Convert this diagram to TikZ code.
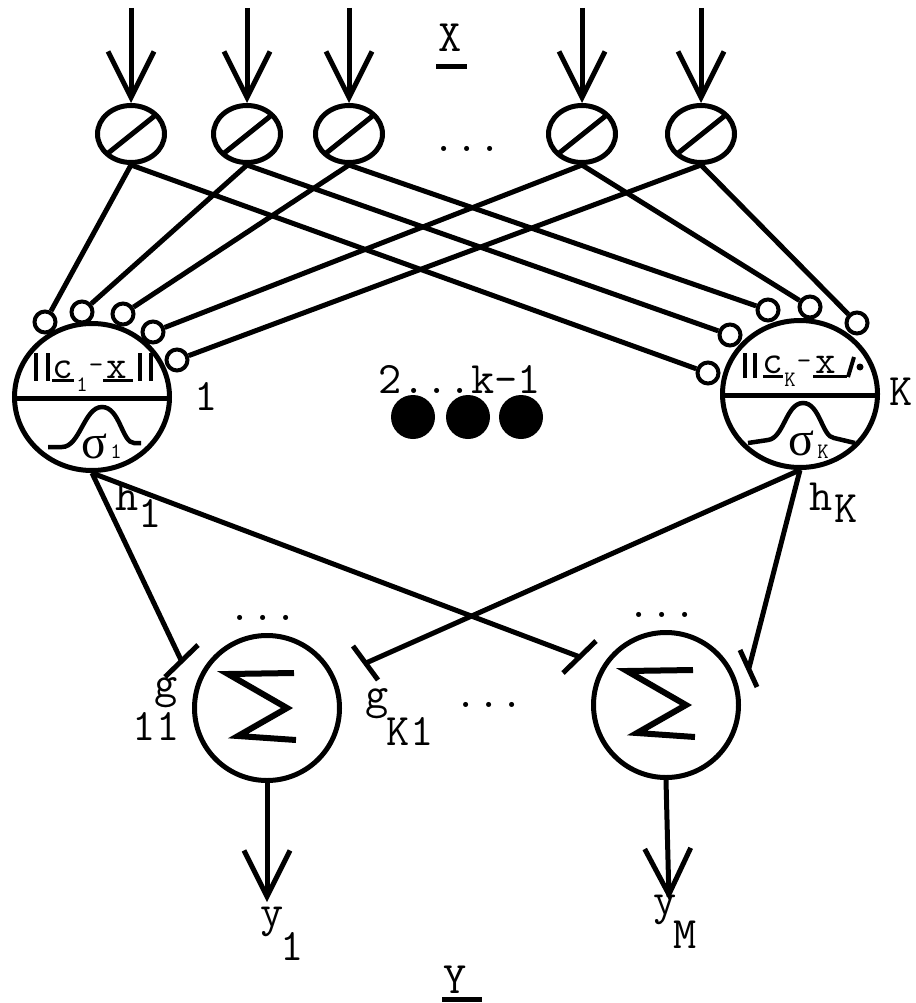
\documentclass[tikz,border=0pt]{standalone}
\usepackage{fontspec}
\newfontfamily\grkfont{Liberation Serif}
\usetikzlibrary{arrows.meta,shapes.geometric,calc}

\begin{document}
\begin{tikzpicture}[x=1pt,y=-1pt,
  wire/.style={line width=5pt},
  port/.style={ellipse,draw,line width=5pt,minimum width=67pt,minimum height=57pt,inner sep=0pt},
  rbf/.style={ellipse,draw,line width=5pt,minimum width=155pt,minimum height=147pt,inner sep=0pt},
  summer/.style={circle,draw,line width=5pt,minimum size=145pt,inner sep=0pt},
  tap/.style={circle,draw,line width=4pt,minimum size=21pt,inner sep=0pt,fill=white},
  blob/.style={circle,fill,minimum size=44pt,inner sep=0pt},
  lab/.style={font=\ttfamily\fontsize{45}{45}\selectfont,inner sep=0pt,anchor=base},
  mid/.style={font=\ttfamily\fontsize{40}{40}\selectfont,inner sep=0pt,anchor=base},
  minus/.style={font=\ttfamily\fontsize{28}{28}\selectfont,inner sep=0pt,anchor=base},
  sig/.style={font=\grkfont\fontsize{48}{48}\selectfont,inner sep=0pt,anchor=base},
  tiny/.style={font=\ttfamily\fontsize{22}{22}\selectfont,inner sep=0pt,anchor=base},
  feed/.style={wire,-{Straight Barb[length=46pt,width=46pt]}},
]
\useasboundingbox (0,0) rectangle (915,1003);
\fill[white] (0,0) rectangle (915,1003);

% input ports
\foreach \i/\x in {1/131,2/247,3/349,4/582,5/701}{
  \node[port] (e\i) at (\x,134) {};
  \coordinate (in\i) at (\x,8);
  \draw[feed] (in\i) -- (e\i.north);
  \draw[wire] ($(e\i.center)+(-24,20)$) -- ($(e\i.center)+(26,-20)$);
}
\node[lab] (X) at (450,52) {X};
\draw[wire] ($(X.base)+(-14,15)$) -- ($(X.base)+(17,15)$);
\node[lab] (dotsin) at (467,152) {...};

% radial basis units
\node[rbf] (r1) at (92,397) {};
\node[rbf] (rK) at (800,394) {};
\draw[wire] ($(r1.center)+(-77,1)$) -- ($(r1.center)+(77,1)$);
\draw[wire] ($(rK.center)+(-77,1)$) -- ($(rK.center)+(77,1)$);

% input taps on unit 1 and unit K
\node[tap] (a1) at (45,322) {};
\node[tap] (a2) at (82,312) {};
\node[tap] (a3) at (123,314) {};
\node[tap] (a4) at (153,332) {};
\node[tap] (a5) at (177,360) {};
\node[tap] (k1) at (708,373) {};
\node[tap] (k2) at (730,335) {};
\node[tap] (k3) at (768,310) {};
\node[tap] (k4) at (810,307) {};
\node[tap] (k5) at (857,323) {};
\foreach \i in {1,...,5}{
  \draw[wire] (e\i.south) -- (a\i);
  \draw[wire] (e\i.south) -- (k\i);
}

% distance term of unit 1
\draw[line width=4.5pt] (36,353)--(36,381) (48,353)--(48,381)
                        (140,353)--(140,381) (151,353)--(151,381);
\node[mid] (c1) at (63,378) {c};
\draw[line width=3pt] (52,380)--(74,380);
\node[tiny] (c1i) at (82,391) {1};
\node[minus] (m1) at (96,373) {-};
\node[mid] (x1) at (117,378) {x};
\draw[line width=3pt] (103,380)--(133,380);
% gaussian of unit 1
\draw[line width=4.5pt] (48,447) -- (62,447) .. controls (80,447) and (84,407) .. (102,407)
   .. controls (120,407) and (122,443) .. (134,443) -- (141,443);
\node[sig] (s1g) at (94,458) {σ};
\node[tiny] (s1i) at (116,458) {1};

% distance term of unit K
\draw[line width=4.5pt] (745,353)--(745,378) (755,353)--(755,378);
\node[mid] (cK) at (773,373) {c};
\draw[line width=3pt] (763,376)--(783,376);
\node[tiny] (cKi) at (790,386) {K};
\node[minus] (mK) at (804,369) {-};
\node[mid] (xK) at (826,373) {x};
\draw[line width=3pt] (813,376)--(847,376);
\draw[line width=4pt] (848,377)--(854,357);
\fill (860,367) circle (3.5pt);
% gaussian of unit K
\draw[line width=4.5pt] (748,443) -- (768,440) .. controls (784,438) and (786,403) .. (803,403)
   .. controls (820,403) and (822,437) .. (834,438) -- (855,443);
\node[sig] (sKg) at (801,455) {σ};
\node[tiny] (sKi) at (823,458) {K};

\node[lab] (n1) at (206,410) {1};
\node[lab] (nK) at (901,405) {K};
\node[lab] (mids) at (460,393) {2...k-1};
\node[blob] (d1) at (413,417) {};
\node[blob] (d2) at (468,417) {};
\node[blob] (d3) at (521,417) {};

\node[lab] (h1) at (127,510) {h};
\node[lab] (h1i) at (150,527) {1};
\node[lab] (hK) at (821,510) {h};
\node[lab] (hKi) at (846,522) {K};

% output summers
\node[summer] (s1) at (267,708) {};
\node[summer] (sM) at (666,705) {};
\foreach \s in {s1,sM}{
  \draw[line width=6pt,line join=miter] ($(\s)+(27,-35)$) -- ($(\s)+(-39,-34)$)
     -- ($(\s)+(20,0)$) -- ($(\s)+(-29,28)$) -- ($(\s)+(29,32)$);
}

% weighted links ending in stop bars
\coordinate (b11) at (181,660);
\coordinate (bK1) at (366,663);
\coordinate (b1M) at (580,657);
\coordinate (bKM) at (749,668);
\draw[wire] (r1.south) -- (b11);
\draw[wire] (r1.south) -- (b1M);
\draw[wire] (rK.south) -- (bK1);
\draw[wire] (rK.south) -- (bKM);
\draw[wire] ($(b11)+(-16,17)$) -- ($(b11)+(17,-15)$);
\draw[wire] ($(b1M)+(-17,16)$) -- ($(b1M)+(16,-16)$);
\draw[wire] ($(bK1)+(-13,-17)$) -- ($(bK1)+(12,17)$);
\draw[wire] ($(bKM)+(-9,-18)$) -- ($(bKM)+(8,19)$);

\node[lab] (g11) at (166,697) {g};
\node[lab] (g11i) at (156,740) {11};
\node[lab] (gK1) at (377,708) {g};
\node[lab] (gK1i) at (410,745) {K1};

\node[lab] (dots1) at (263,620) {...};
\node[lab] (dotsM) at (662,617) {...};
\node[lab] (dotsmid) at (489,707) {...};

% outputs
\coordinate (o1) at (267,902);
\coordinate (oM) at (669,900);
\draw[feed] (s1.south) -- (o1);
\draw[feed] (sM.south) -- (oM);
\node[lab] (y1) at (272,926) {y};
\node[lab] (y1i) at (292,960) {1};
\node[lab] (yM) at (665,914) {y};
\node[lab] (yMi) at (685,948) {M};
\node[lab] (Y) at (455,993) {Y};
\draw[wire] ($(Y.base)+(-13,6)$) -- ($(Y.base)+(27,6)$);
\end{tikzpicture}
\end{document}
